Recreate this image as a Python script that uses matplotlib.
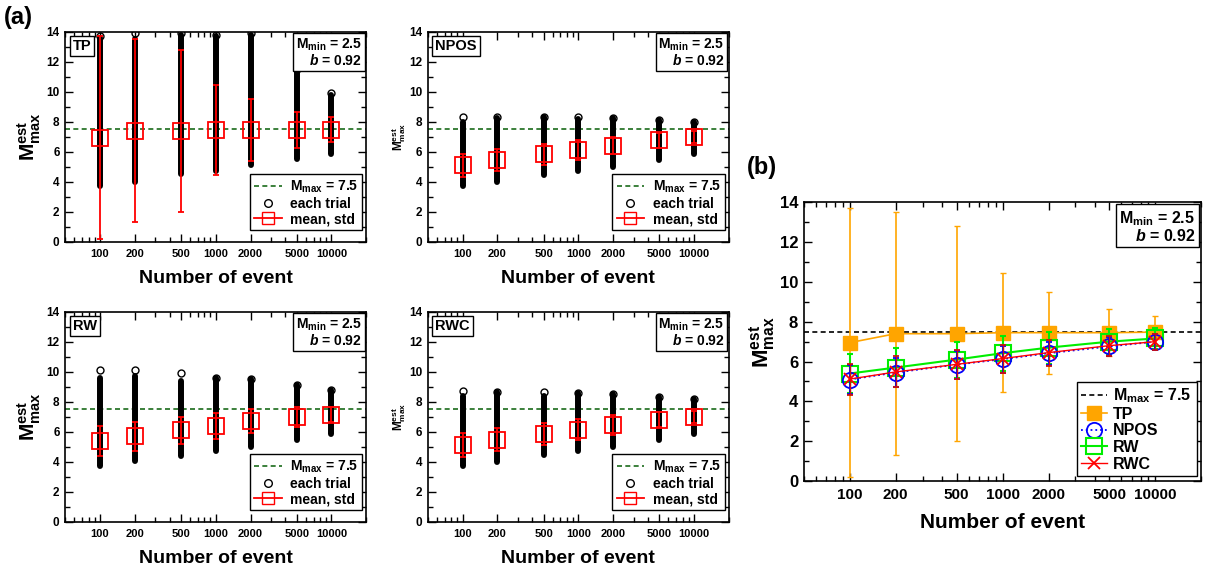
import numpy as np
import matplotlib
matplotlib.use('Agg')
import matplotlib.pyplot as plt
from matplotlib.lines import Line2D
from matplotlib.ticker import FixedLocator, LogLocator, NullFormatter, MultipleLocator

plt.rcParams['font.family'] = ['Liberation Sans', 'DejaVu Sans']
plt.rcParams['font.weight'] = 'bold'
plt.rcParams['mathtext.fontset'] = 'custom'
plt.rcParams['mathtext.rm'] = 'Liberation Sans:bold'
plt.rcParams['mathtext.bf'] = 'Liberation Sans:bold'
plt.rcParams['mathtext.it'] = 'Liberation Sans:italic:bold'
plt.rcParams['mathtext.default'] = 'rm'

# number of events per synthetic catalogue
N = [100, 200, 500, 1000, 2000, 5000, 10000]
tick_labels = ['100', '200', '500', '1000', '2000', '5000', '10000']
M_MAX = 7.5

# TP
tp_mean = [6.95, 7.40, 7.40, 7.45, 7.45, 7.45, 7.48]
tp_std = [6.75, 6.10, 5.40, 3.00, 2.05, 1.18, 0.83]
tp_low = [3.7, 4.0, 4.5, 4.7, 5.1, 5.5, 5.85]
tp_top = [13.6, 13.5, 13.8, 13.7, 13.8, 11.4, 9.8]
tp_peak = [13.7, 13.9, 13.9, 13.8, 13.9, 11.5, 9.9]

# NPOS
npos_mean = [5.10, 5.45, 5.85, 6.12, 6.42, 6.76, 7.00]
npos_std = [0.75, 0.75, 0.70, 0.67, 0.58, 0.47, 0.40]
npos_low = [3.7, 4.0, 4.45, 4.7, 5.0, 5.45, 5.85]
npos_top = [8.0, 8.25, 8.3, 8.2, 8.25, 8.15, 8.0]
npos_peak = [8.35, 8.3, 8.35, 8.3, 8.25, 8.15, 8.0]

# RW
rw_mean = [5.40, 5.70, 6.10, 6.42, 6.70, 7.00, 7.16]
rw_std = [0.98, 0.98, 0.90, 0.87, 0.80, 0.65, 0.52]
rw_low = [3.7, 4.05, 4.4, 4.7, 5.0, 5.45, 5.85]
rw_top = [9.6, 9.7, 9.4, 9.6, 9.5, 9.1, 8.8]
rw_peak = [10.1, 10.1, 9.9, 9.6, 9.5, 9.1, 8.8]

# RWC
rwc_mean = [5.12, 5.48, 5.86, 6.15, 6.45, 6.80, 7.00]
rwc_std = [0.78, 0.78, 0.73, 0.70, 0.65, 0.50, 0.40]
rwc_low = [3.7, 4.0, 4.45, 4.7, 5.0, 5.45, 5.85]
rwc_top = [8.4, 8.65, 8.4, 8.6, 8.5, 8.35, 8.2]
rwc_peak = [8.7, 8.65, 8.65, 8.6, 8.5, 8.35, 8.2]

ylab = r'M$^{est}_{max}$'
mlab = r'M$_{max}$ = 7.5'
info = 'M$_{min}$ = 2.5\n$\\mathit{b}$ = 0.92'


def style_axes(ax, xfs, yfs):
    ax.set_xscale('log')
    ax.set_xlim(50, 20000)
    ax.set_ylim(0, 14)
    ax.xaxis.set_major_locator(FixedLocator(N))
    ax.set_xticklabels(tick_labels)
    ax.xaxis.set_minor_locator(LogLocator(base=10, subs=np.arange(2, 10)))
    ax.xaxis.set_minor_formatter(NullFormatter())
    ax.yaxis.set_major_locator(MultipleLocator(2))
    ax.yaxis.set_minor_locator(MultipleLocator(1))
    ax.tick_params(which='both', direction='in', top=True, right=True, width=1)
    ax.tick_params(which='major', length=6)
    ax.tick_params(which='minor', length=3.5)
    ax.tick_params(axis='x', labelsize=xfs, pad=5)
    ax.tick_params(axis='y', labelsize=yfs, pad=4)
    for s in ax.spines.values():
        s.set_linewidth(1.2)


def info_box(ax, fs):
    ax.text(0.985, 0.975, info, transform=ax.transAxes, ha='right', va='top',
            fontsize=fs, fontweight='bold', multialignment='right', linespacing=1.0,
            bbox=dict(boxstyle='square,pad=0.2', fc='white', ec='black', lw=1))


def trial_panel(ax, name, mean, std, low, top, peak, ylab_fs, ylab_pad):
    style_axes(ax, 8, 8.5)
    hl = ax.axhline(M_MAX, color='#1a6b1a', ls='--', lw=1.2, dashes=(3, 2))
    ax.vlines(N, low, top, color='black', lw=4.3, capstyle='round', zorder=2)
    ax.plot(N, peak, 'o', mfc='none', mec='black', ms=5, mew=1, zorder=2)
    ax.errorbar(N, mean, yerr=std, fmt='s', mfc='none', mec='red', ms=11, mew=1.3,
                ecolor='red', elinewidth=1.3, capsize=2.5, capthick=1.3, zorder=3)
    ax.set_xlabel('Number of event', fontsize=14, fontweight='bold', labelpad=8)
    ax.set_ylabel(ylab, fontsize=ylab_fs, fontweight='bold', labelpad=ylab_pad)
    ax.text(0.025, 0.965, name, transform=ax.transAxes, ha='left', va='top',
            fontsize=10.5, fontweight='bold',
            bbox=dict(boxstyle='square,pad=0.2', fc='white', ec='black', lw=1))
    info_box(ax, 10)
    h_trial = Line2D([], [], ls='none', marker='o', mfc='none', mec='black', ms=5.5)
    h_mean = Line2D([], [], color='red', marker='s', mfc='none', mec='red', ms=9, lw=1.3)
    leg = ax.legend([hl, h_trial, h_mean], [mlab, 'each trial', 'mean, std'],
                    loc='lower right', bbox_to_anchor=(0.987, 0.055), fontsize=10,
                    fancybox=False, framealpha=1, edgecolor='black', handlelength=2.0,
                    handletextpad=0.6, borderpad=0.3, labelspacing=0.12, borderaxespad=0)
    leg.get_frame().set_linewidth(1)
    ax.set_zorder(1)


fig = plt.figure(figsize=(12.05, 5.68), dpi=100)

ax_tp = fig.add_axes([0.054, 0.574, 0.250, 0.370])
ax_npos = fig.add_axes([0.355, 0.574, 0.250, 0.370])
ax_rw = fig.add_axes([0.054, 0.081, 0.250, 0.370])
ax_rwc = fig.add_axes([0.355, 0.081, 0.250, 0.370])

trial_panel(ax_tp, 'TP', tp_mean, tp_std, tp_low, tp_top, tp_peak, 15, 2)
trial_panel(ax_npos, 'NPOS', npos_mean, npos_std, npos_low, npos_top, npos_peak, 8.5, 1)
trial_panel(ax_rw, 'RW', rw_mean, rw_std, rw_low, rw_top, rw_peak, 15, 2)
trial_panel(ax_rwc, 'RWC', rwc_mean, rwc_std, rwc_low, rwc_top, rwc_peak, 8.5, 1)

# panel (b): mean and std for all methods
ax = fig.add_axes([0.667, 0.153, 0.330, 0.491])
style_axes(ax, 11, 12)
hl = ax.axhline(M_MAX, color='black', ls='--', lw=1.2, dashes=(3, 2), zorder=1)
tp = ax.errorbar(N, tp_mean, yerr=tp_std, color='orange', marker='s', ms=10,
                 mfc='orange', mec='orange', lw=1.2, capsize=2, capthick=1, zorder=2)
rw = ax.errorbar(N, rw_mean, yerr=rw_std, color='#00ee00', marker='s', ms=11,
                 mfc='none', mew=1.5, lw=1.5, capsize=2, capthick=1, zorder=3)
npos = ax.errorbar(N, npos_mean, yerr=npos_std, color='blue', ls=':', marker='o', ms=11,
                   mfc='none', mew=1.3, lw=1.3, capsize=2, capthick=1, zorder=4)
rwc = ax.errorbar(N, rwc_mean, yerr=rwc_std, color='red', ecolor='#cc1111', marker='x',
                  ms=9, mew=1.3, lw=1.0, capsize=2, capthick=1, zorder=5)
ax.set_xlabel('Number of event', fontsize=15, fontweight='bold', labelpad=8)
ax.set_ylabel(ylab, fontsize=16, fontweight='bold', labelpad=2)
info_box(ax, 11.5)
leg = ax.legend([hl, tp[0], npos[0], rw[0], rwc[0]], [mlab, 'TP', 'NPOS', 'RW', 'RWC'],
                loc='lower right', fontsize=11.5, fancybox=False, framealpha=1,
                edgecolor='black', handlelength=1.6, handletextpad=0.4,
                borderpad=0.3, labelspacing=0.1, borderaxespad=0.3)
leg.get_frame().set_linewidth(1)

fig.text(0.003, 0.99, '(a)', fontsize=17, fontweight='bold', ha='left', va='top')
fig.text(0.620, 0.725, '(b)', fontsize=17, fontweight='bold', ha='left', va='top')

fig.savefig('out.png', dpi=100)
